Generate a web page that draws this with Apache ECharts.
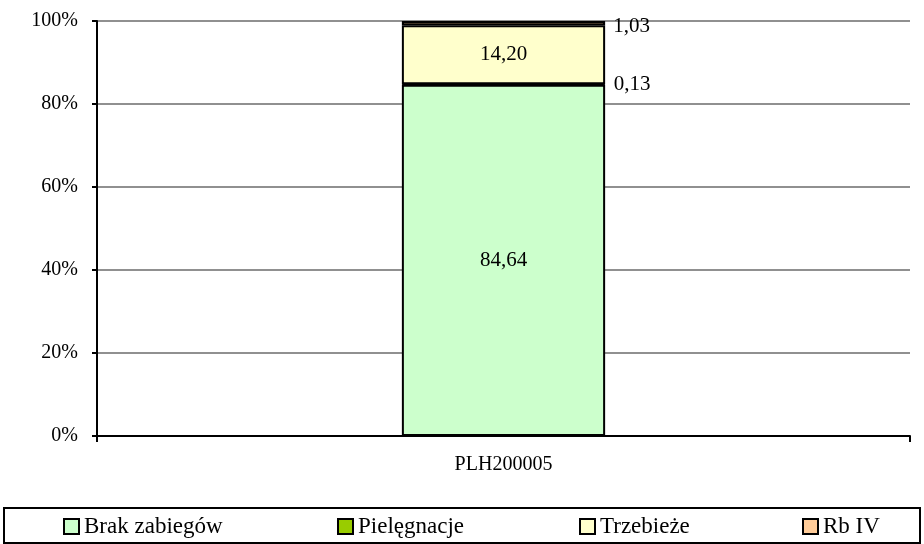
<!DOCTYPE html>
<html>
<head>
<meta charset="utf-8">
<script src="https://cdn.jsdelivr.net/npm/echarts@6/dist/echarts.min.js"></script>
<style>
  html, body { margin: 0; padding: 0; background: #fff; }
  #chart { width: 924px; height: 544px; }
</style>
</head>
<body>
<div id="chart"></div>
<script>
  // dane
  var categories = ['PLH200005'];
  var seriesNames = ['Brak zabiegów', 'Pielęgnacje', 'Trzebieże', 'Rb IV'];
  var brakZabiegow = [84.64];
  var pielegnacje = [0.13];
  var trzebieze = [14.20];
  var rbIV = [1.03];
  var yTicks = [0, 20, 40, 60, 80, 100];

  var colors = ['#CCFFCC', '#99CC00', '#FFFFCC', '#FFCC99'];
  var fontFam = '"Liberation Serif", "Times New Roman", serif';

  function fmt(v) {
    return v.toFixed(2).replace('.', ',');
  }

  function makeSeries(name, data, idx, labelPos, offset) {
    return {
      name: name,
      type: 'bar',
      stack: 'all',
      data: data,
      barWidth: '25%',
      itemStyle: {color: colors[idx], borderColor: '#000', borderWidth: 2},
      label: {
        show: true,
        position: labelPos,
        offset: offset || [0, 0],
        distance: 8,
        color: '#000',
        fontFamily: fontFam,
        fontSize: 21,
        formatter: function (p) { return fmt(p.value); }
      }
    };
  }

  var legendX = [58, 332, 574, 797];
  var legends = seriesNames.map(function (n, i) {
    return {
      data: [n],
      left: legendX[i],
      top: 510,
      icon: 'rect',
      itemWidth: 15,
      itemHeight: 15,
      textStyle: {fontFamily: fontFam, fontSize: 23, color: '#000'},
      selectedMode: false
    };
  });

  var chart = echarts.init(document.getElementById('chart'));
  chart.setOption({
    animation: false,
    color: colors,
    grid: {left: 97, right: 14, top: 21, bottom: 108},
    legend: legends,
    graphic: [{
      type: 'rect',
      shape: {x: 4, y: 508, width: 916, height: 35},
      style: {fill: 'none', stroke: '#000', lineWidth: 2},
      z: -1
    }],
    xAxis: {
      type: 'category',
      data: categories,
      axisLine: {lineStyle: {color: '#000', width: 2}},
      axisTick: {show: true, length: 6, lineStyle: {color: '#000', width: 2}},
      axisLabel: {color: '#000', fontFamily: fontFam, fontSize: 20, margin: 19}
    },
    yAxis: {
      type: 'value',
      min: 0,
      max: 100,
      interval: 20,
      axisLine: {show: true, lineStyle: {color: '#000', width: 2}},
      axisTick: {show: true, length: 5, lineStyle: {color: '#000', width: 2}},
      axisLabel: {
        color: '#000', fontFamily: fontFam, fontSize: 20, margin: 19,
        formatter: function (v) { return yTicks.indexOf(v) >= 0 ? v + '%' : ''; }
      },
      splitLine: {lineStyle: {color: '#909090', width: 2}}
    },
    series: [
      makeSeries(seriesNames[0], brakZabiegow, 0, 'inside'),
      makeSeries(seriesNames[1], pielegnacje, 1, 'right'),
      makeSeries(seriesNames[2], trzebieze, 2, 'inside'),
      makeSeries(seriesNames[3], rbIV, 3, 'right', [0, 3])
    ]
  });
</script>
</body>
</html>
